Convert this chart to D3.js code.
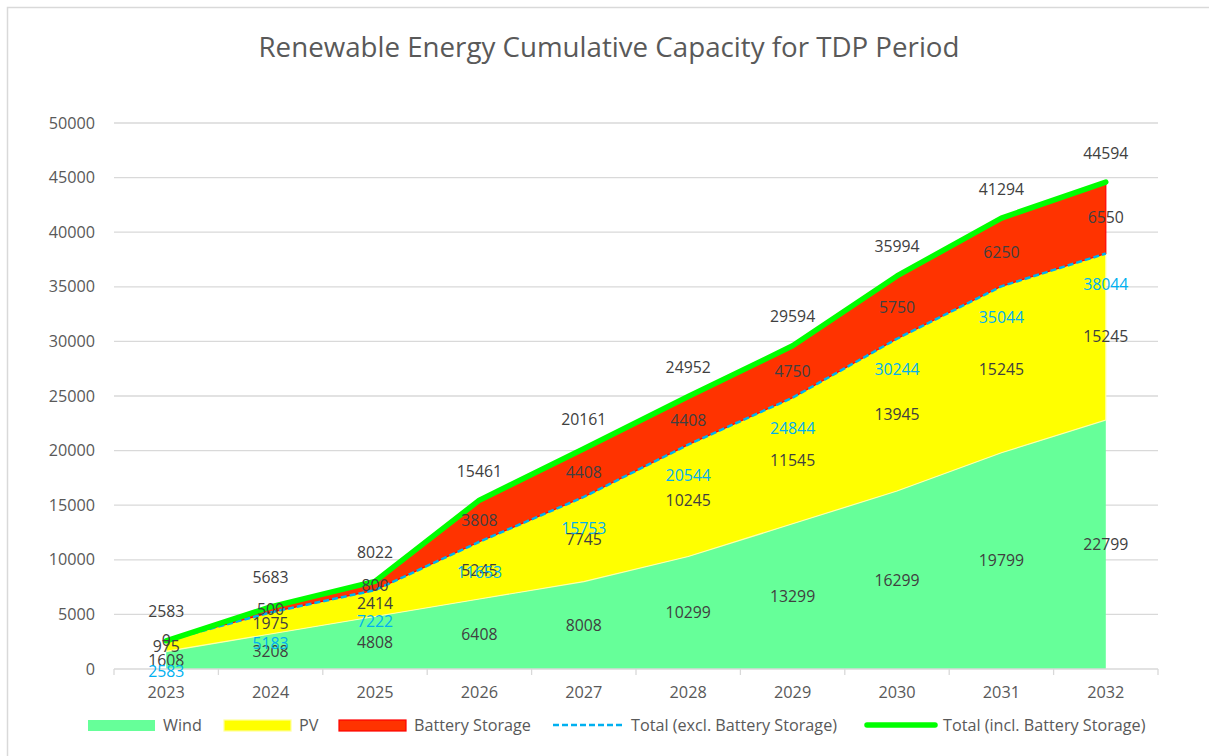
<!DOCTYPE html>
<html>
<head>
<meta charset="utf-8">
<script src="https://cdn.jsdelivr.net/npm/d3@7"></script>
<style>
  body { margin: 0; background: #fff; }
  text { font-family: "Open Sans", sans-serif; }
</style>
</head>
<body>
<svg id="chart" width="1209" height="756"></svg>
<script>
// ─── Data ────────────────────────────────────────────────────────────────
const years     = ["2023","2024","2025","2026","2027","2028","2029","2030","2031","2032"];
const wind      = [1608, 3208, 4808, 6408, 8008, 10299, 13299, 16299, 19799, 22799];
const pv        = [975, 1975, 2414, 5245, 7745, 10245, 11545, 13945, 15245, 15245];
const battery   = [0, 500, 800, 3808, 4408, 4408, 4750, 5750, 6250, 6550];
const totalExcl = [2583, 5183, 7222, 11653, 15753, 20544, 24844, 30244, 35044, 38044];
const totalIncl = [2583, 5683, 8022, 15461, 20161, 24952, 29594, 35994, 41294, 44594];
const yTicks    = [0, 5000, 10000, 15000, 20000, 25000, 30000, 35000, 40000, 45000, 50000];

// ─── Setup ───────────────────────────────────────────────────────────────
const svg = d3.select("#chart");
const plot = { left: 114, right: 1158, top: 123, bottom: 669 };
const labelColor = "#404040";
const blue  = "#00B0F0";
const green = "#00FF00";

// chart frame
svg.append("path")
  .attr("d", "M7.5,760 V7.5 H1215")
  .attr("fill", "none")
  .attr("stroke", "#d9d9d9")
  .attr("stroke-width", 1.5);

// title
svg.append("text")
  .attr("x", 609).attr("y", 57)
  .attr("text-anchor", "middle")
  .attr("font-size", "27.7px")
  .attr("fill", "#595959")
  .text("Renewable Energy Cumulative Capacity for TDP Period");

// ─── Scales ──────────────────────────────────────────────────────────────
const x = d3.scaleBand().domain(years).range([plot.left, plot.right]);
const cx = d => x(d) + x.bandwidth() / 2;
const y = d3.scaleLinear().domain([0, 50000]).range([plot.bottom, plot.top]);

// gridlines + y labels
svg.append("g")
  .selectAll("line")
  .data(yTicks.slice(1))
  .join("line")
    .attr("x1", plot.left).attr("x2", plot.right)
    .attr("y1", d => y(d)).attr("y2", d => y(d))
    .attr("stroke", "#d9d9d9")
    .attr("stroke-width", 1.3);

svg.append("g")
  .selectAll("text")
  .data(yTicks)
  .join("text")
    .attr("x", 95).attr("y", d => y(d))
    .attr("dy", "0.35em")
    .attr("text-anchor", "end")
    .attr("font-size", "16.2px")
    .attr("fill", "#595959")
    .text(d => d);

// ─── Stacked areas ───────────────────────────────────────────────────────
const rows = years.map((yr, i) => ({ year: yr, wind: wind[i], pv: pv[i], battery: battery[i] }));
const stack = d3.stack().keys(["wind", "pv", "battery"])(rows);
const fills   = { wind: "#66FF99", pv: "#FFFF00", battery: "#FF3300" };
const strokes = { wind: "none", pv: "#FFFFAA", battery: "#FF0000" };

const area = d3.area()
  .x(d => cx(d.data.year))
  .y0(d => y(d[0]))
  .y1(d => y(d[1]));

svg.append("g")
  .selectAll("path")
  .data(stack)
  .join("path")
    .attr("d", area)
    .attr("fill", d => fills[d.key])
    .attr("stroke", d => strokes[d.key])
    .attr("stroke-width", 1.2);

// axis line + ticks between categories
svg.append("line")
  .attr("x1", plot.left).attr("x2", plot.right)
  .attr("y1", plot.bottom).attr("y2", plot.bottom)
  .attr("stroke", "#d9d9d9").attr("stroke-width", 1.3);

svg.append("g")
  .selectAll("line")
  .data(years.concat(["end"]))
  .join("line")
    .attr("x1", (d, i) => plot.left + i * x.bandwidth())
    .attr("x2", (d, i) => plot.left + i * x.bandwidth())
    .attr("y1", plot.bottom).attr("y2", plot.bottom + 6)
    .attr("stroke", "#d9d9d9").attr("stroke-width", 1.3);

svg.append("g")
  .selectAll("text")
  .data(years)
  .join("text")
    .attr("x", d => cx(d)).attr("y", 692)
    .attr("dy", "0.35em")
    .attr("text-anchor", "middle")
    .attr("font-size", "16.3px")
    .attr("fill", "#595959")
    .text(d => d);

// ─── Total lines ─────────────────────────────────────────────────────────
const line = d3.line().x((d, i) => cx(years[i])).y(d => y(d));

svg.append("path")
  .datum(totalExcl)
  .attr("d", line)
  .attr("fill", "none")
  .attr("stroke", blue)
  .attr("stroke-width", 2.5)
  .attr("stroke-dasharray", "6,3");

svg.append("path")
  .datum(totalIncl)
  .attr("d", line)
  .attr("fill", "none")
  .attr("stroke", green)
  .attr("stroke-width", 5.5)
  .attr("stroke-linejoin", "round")
  .attr("stroke-linecap", "round");

// ─── Data labels ─────────────────────────────────────────────────────────
const labels = svg.append("g")
  .attr("font-size", "15.8px")
  .attr("text-anchor", "middle");

stack.forEach(s => {
  labels.append("g")
    .selectAll("text")
    .data(s)
    .join("text")
      .attr("x", d => cx(d.data.year))
      .attr("y", d => y((d[0] + d[1]) / 2))
      .attr("dy", "0.35em")
      .attr("fill", labelColor)
      .text(d => d.data[s.key]);
});

labels.append("g")
  .selectAll("text")
  .data(totalExcl)
  .join("text")
    .attr("x", (d, i) => cx(years[i]))
    .attr("y", d => y(d) + 31)
    .attr("dy", "0.35em")
    .attr("fill", blue)
    .text(d => d);

labels.append("g")
  .selectAll("text")
  .data(totalIncl)
  .join("text")
    .attr("x", (d, i) => cx(years[i]))
    .attr("y", d => y(d) - 29)
    .attr("dy", "0.35em")
    .attr("fill", labelColor)
    .text(d => d);

// ─── Legend ──────────────────────────────────────────────────────────────
const legend = svg.append("g").attr("font-size", "16.2px").attr("fill", "#595959");
const ly = 725;

const legendItems = [
  { name: "Wind", type: "rect", fill: fills.wind, stroke: "none", x: 88 },
  { name: "PV", type: "rect", fill: fills.pv, stroke: "#FFFF99", x: 224 },
  { name: "Battery Storage", type: "rect", fill: fills.battery, stroke: "#FF0000", x: 339 },
  { name: "Total (excl. Battery Storage)", type: "dash", x: 553 },
  { name: "Total (incl. Battery Storage)", type: "line", x: 865 }
];

legendItems.forEach(it => {
  if (it.type === "rect") {
    legend.append("rect")
      .attr("x", it.x).attr("y", ly - 5)
      .attr("width", 67).attr("height", 11)
      .attr("fill", it.fill)
      .attr("stroke", it.stroke)
      .attr("stroke-width", 1.2);
  } else if (it.type === "dash") {
    legend.append("line")
      .attr("x1", it.x).attr("x2", it.x + 71)
      .attr("y1", ly).attr("y2", ly)
      .attr("stroke", blue).attr("stroke-width", 2.5)
      .attr("stroke-dasharray", "6,3");
  } else {
    legend.append("line")
      .attr("x1", it.x + 2).attr("x2", it.x + 70)
      .attr("y1", ly).attr("y2", ly)
      .attr("stroke", green).attr("stroke-width", 5.5)
      .attr("stroke-linecap", "round");
  }
  legend.append("text")
    .attr("x", it.type === "rect" ? it.x + 75 : it.x + 78)
    .attr("y", ly).attr("dy", "0.35em")
    .text(it.name);
});
</script>
</body>
</html>
